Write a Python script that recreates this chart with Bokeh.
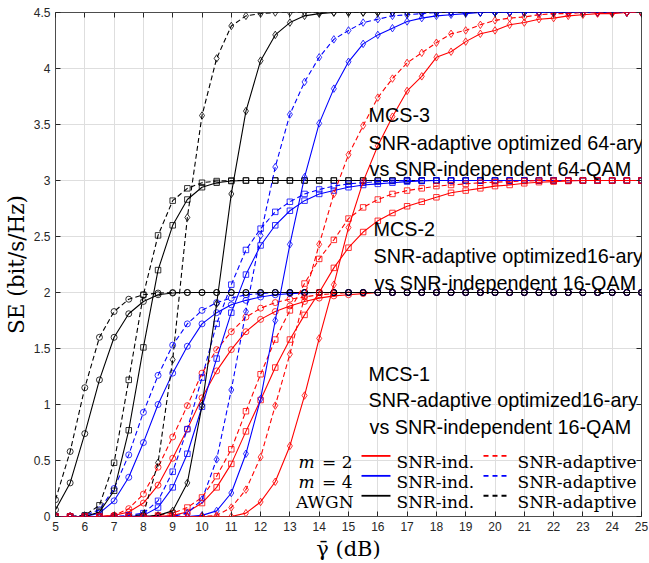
from bokeh.plotting import figure
from bokeh.models import LinearAxis, Label, FixedTicker, CustomJSTickFormatter
from bokeh.embed import file_html
from bokeh.resources import INLINE

# ---------------- data ----------------
snr_db = [5, 5.5, 6, 6.5, 7, 7.5, 8, 8.5, 9, 9.5,
          10, 10.5, 11, 11.5, 12, 12.5, 13, 13.5, 14, 14.5,
          15, 15.5, 16, 16.5, 17, 17.5, 18, 18.5, 19, 19.5,
          20, 20.5, 21, 21.5, 22, 22.5, 23, 23.5, 24, 24.5, 25]

# MCS-1 (circles)
awgn_ad_1 = [0.15, 0.58, 1.15, 1.60, 1.83, 1.94, 1.98, 1.995, 2, 2,
             2, 2, 2, 2, 2, 2, 2, 2, 2, 2,
             2, 2, 2, 2, 2, 2, 2, 2, 2, 2,
             2, 2, 2, 2, 2, 2, 2, 2, 2, 2, 2]
awgn_ind_1 = [0.06, 0.30, 0.74, 1.22, 1.60, 1.81, 1.92, 1.98, 1.995, 2,
              2, 2, 2, 2, 2, 2, 2, 2, 2, 2,
              2, 2, 2, 2, 2, 2, 2, 2, 2, 2,
              2, 2, 2, 2, 2, 2, 2, 2, 2, 2, 2]
m4_ad_1 = [0, 0, 0.01, 0.06, 0.25, 0.55, 0.93, 1.26, 1.53, 1.72,
           1.84, 1.91, 1.95, 1.98, 1.99, 2, 2, 2, 2, 2,
           2, 2, 2, 2, 2, 2, 2, 2, 2, 2,
           2, 2, 2, 2, 2, 2, 2, 2, 2, 2, 2]
m4_ind_1 = [0, 0, 0, 0.03, 0.14, 0.35, 0.66, 1.00, 1.28, 1.52,
            1.72, 1.82, 1.89, 1.93, 1.96, 1.98, 1.99, 1.995, 2, 2,
            2, 2, 2, 2, 2, 2, 2, 2, 2, 2,
            2, 2, 2, 2, 2, 2, 2, 2, 2, 2, 2]
m2_ad_1 = [0, 0, 0, 0, 0.01, 0.07, 0.20, 0.44, 0.71, 0.99,
           1.28, 1.49, 1.65, 1.78, 1.86, 1.91, 1.94, 1.96, 1.98, 1.99,
           2, 2, 2, 2, 2, 2, 2, 2, 2, 2,
           2, 2, 2, 2, 2, 2, 2, 2, 2, 2, 2]
m2_ind_1 = [0, 0, 0, 0, 0.01, 0.04, 0.12, 0.28, 0.52, 0.78,
            1.06, 1.30, 1.49, 1.65, 1.76, 1.83, 1.88, 1.92, 1.95, 1.97,
            1.98, 1.99, 2, 2, 2, 2, 2, 2, 2, 2,
            2, 2, 2, 2, 2, 2, 2, 2, 2, 2, 2]

# MCS-2 (squares)
awgn_ad_2 = [0, 0, 0.01, 0.10, 0.48, 1.22, 1.98, 2.51, 2.82, 2.93,
             2.98, 2.995, 3, 3, 3, 3, 3, 3, 3, 3,
             3, 3, 3, 3, 3, 3, 3, 3, 3, 3,
             3, 3, 3, 3, 3, 3, 3, 3, 3, 3, 3]
awgn_ind_2 = [0, 0, 0, 0.04, 0.23, 0.77, 1.51, 2.20, 2.60, 2.83,
              2.94, 2.98, 2.995, 3, 3, 3, 3, 3, 3, 3,
              3, 3, 3, 3, 3, 3, 3, 3, 3, 3,
              3, 3, 3, 3, 3, 3, 3, 3, 3, 3, 3]
m4_ad_2 = [0, 0, 0, 0, 0, 0.01, 0.03, 0.14, 0.40, 0.78,
           1.24, 1.72, 2.07, 2.38, 2.57, 2.72, 2.81, 2.88, 2.92, 2.95,
           2.97, 2.98, 2.99, 2.995, 3, 3, 3, 3, 3, 3,
           3, 3, 3, 3, 3, 3, 3, 3, 3, 3, 3]
m4_ind_2 = [0, 0, 0, 0, 0, 0, 0.01, 0.08, 0.26, 0.56,
            0.98, 1.41, 1.82, 2.16, 2.42, 2.60, 2.73, 2.82, 2.88, 2.91,
            2.94, 2.96, 2.97, 2.98, 2.99, 2.995, 3, 3, 3, 3,
            3, 3, 3, 3, 3, 3, 3, 3, 3, 3, 3]
m2_ad_2 = [0, 0, 0, 0, 0, 0, 0, 0.01, 0.03, 0.08,
           0.17, 0.36, 0.60, 0.94, 1.27, 1.58, 1.84, 2.08, 2.30, 2.47,
           2.66, 2.76, 2.83, 2.88, 2.91, 2.93, 2.95, 2.96, 2.97, 2.98,
           2.985, 2.99, 2.995, 3, 3, 3, 3, 3, 3, 3, 3]
m2_ind_2 = [0, 0, 0, 0, 0, 0, 0, 0, 0.01, 0.04,
            0.12, 0.26, 0.47, 0.76, 1.04, 1.33, 1.58, 1.80, 2.00, 2.22,
            2.40, 2.54, 2.64, 2.71, 2.77, 2.81, 2.85, 2.89, 2.91, 2.93,
            2.95, 2.96, 2.975, 2.985, 2.99, 2.995, 3, 3, 3, 3, 3]

# MCS-3 (diamonds)
awgn_ad_3 = [0, 0, 0, 0, 0, 0, 0.02, 0.48, 1.40, 2.67,
             3.58, 4.09, 4.38, 4.47, 4.49, 4.5, 4.5, 4.5, 4.5, 4.5,
             4.5, 4.5, 4.5, 4.5, 4.5, 4.5, 4.5, 4.5, 4.5, 4.5,
             4.5, 4.5, 4.5, 4.5, 4.5, 4.5, 4.5, 4.5, 4.5, 4.5, 4.5]
awgn_ind_3 = [0, 0, 0, 0, 0, 0, 0, 0.01, 0.05, 0.30,
              0.99, 1.90, 2.88, 3.62, 4.07, 4.30, 4.41, 4.47, 4.49, 4.5,
              4.5, 4.5, 4.5, 4.5, 4.5, 4.5, 4.5, 4.5, 4.5, 4.5,
              4.5, 4.5, 4.5, 4.5, 4.5, 4.5, 4.5, 4.5, 4.5, 4.5, 4.5]
m4_ad_3 = [0, 0, 0, 0, 0, 0, 0, 0, 0, 0.03,
           0.15, 0.51, 1.13, 1.83, 2.51, 3.12, 3.59, 3.88, 4.10, 4.26,
           4.34, 4.41, 4.44, 4.47, 4.48, 4.49, 4.5, 4.5, 4.5, 4.5,
           4.5, 4.5, 4.5, 4.5, 4.5, 4.5, 4.5, 4.5, 4.5, 4.5, 4.5]
m4_ind_3 = [0, 0, 0, 0, 0, 0, 0, 0, 0, 0,
            0.01, 0.05, 0.21, 0.56, 1.05, 1.75, 2.43, 3.03, 3.51, 3.82,
            4.06, 4.22, 4.30, 4.36, 4.42, 4.45, 4.47, 4.48, 4.49, 4.5,
            4.5, 4.5, 4.5, 4.5, 4.5, 4.5, 4.5, 4.5, 4.5, 4.5, 4.5]
m2_ad_3 = [0, 0, 0, 0, 0, 0, 0, 0, 0, 0,
           0, 0.01, 0.08, 0.24, 0.53, 0.99, 1.45, 1.96, 2.43, 2.88,
           3.23, 3.49, 3.74, 3.91, 4.05, 4.14, 4.23, 4.31, 4.34, 4.39,
           4.43, 4.45, 4.46, 4.48, 4.49, 4.49, 4.5, 4.5, 4.5, 4.5, 4.5]
m2_ind_3 = [0, 0, 0, 0, 0, 0, 0, 0, 0, 0,
            0, 0, 0, 0.03, 0.13, 0.31, 0.63, 1.08, 1.59, 2.07,
            2.58, 2.99, 3.31, 3.57, 3.80, 3.93, 4.10, 4.15, 4.24, 4.31,
            4.34, 4.39, 4.41, 4.44, 4.45, 4.47, 4.48, 4.49, 4.49, 4.5, 4.5]

x_ticks = list(range(5, 26))
y_ticks = [0, 0.5, 1, 1.5, 2, 2.5, 3, 3.5, 4, 4.5]
y_tick_labels = ["0", "0.5", "1", "1.5", "2", "2.5", "3", "3.5", "4", "4.5"]

annotations = [
    ("MCS-3", 368, 115.0), ("SNR-adaptive optimized 64-ary", 368, 142.5),
    ("vs SNR-independent 64-QAM", 369, 169.0),
    ("MCS-2", 373, 229.0), ("SNR-adaptive optimized16-ary", 373, 256.0),
    ("vs SNR-independent 16-QAM", 374, 283.0),
    ("MCS-1", 368, 374.0), ("SNR-adaptive optimized16-ary", 368, 401.0),
    ("vs SNR-independent 16-QAM", 369, 428.0),
]

# ---------------- figure ----------------
RED, BLUE, BLACK = "#ff0000", "#0000ff", "#000000"
AX = "#262626"
DASH = "5 3"

p = figure(width=649, height=563, x_range=(5, 25), y_range=(0, 4.5),
           output_backend="svg", toolbar_location=None,
           min_border_left=55, min_border_right=8, min_border_top=12,
           min_border_bottom=45)
p.background_fill_color = "white"
p.border_fill_color = "white"
p.outline_line_color = "#4d4d4d"
p.outline_line_width = 1

p.xaxis.ticker = FixedTicker(ticks=x_ticks)
p.yaxis.ticker = FixedTicker(ticks=y_ticks)
p.yaxis.major_label_overrides = {float(v): s for v, s in zip(y_ticks, y_tick_labels)}

for ax in (p.xaxis[0], p.yaxis[0]):
    ax.major_tick_in = 5
    ax.major_tick_out = 0
    ax.minor_tick_line_color = None
    ax.axis_line_color = None
    ax.major_tick_line_color = AX
    ax.major_label_text_font = "Liberation Sans"
    ax.major_label_text_font_size = "12px"
    ax.major_label_text_color = AX
    ax.major_label_standoff = 5
    ax.axis_label_text_font = "DejaVu Serif"
    ax.axis_label_text_font_style = "normal"
    ax.axis_label_text_color = "black"
    ax.axis_label_standoff = 3

p.xaxis.axis_label = "\u03b3\u0304 (dB)"
p.xaxis.axis_label_text_font_size = "21px"
p.yaxis.axis_label = "SE (bit/s/Hz)"
p.yaxis.axis_label_text_font_size = "21.5px"
p.yaxis.axis_label_standoff = 2

blank = CustomJSTickFormatter(code="return ''")
top = LinearAxis(ticker=FixedTicker(ticks=x_ticks), formatter=blank,
                 major_tick_in=5, major_tick_out=0, axis_line_color=None,
                 minor_tick_line_color=None, major_tick_line_color=AX,
                 major_label_standoff=0)
right = LinearAxis(ticker=FixedTicker(ticks=y_ticks), formatter=blank,
                   major_tick_in=5, major_tick_out=0, axis_line_color=None,
                   minor_tick_line_color=None, major_tick_line_color=AX,
                   major_label_standoff=0)
p.add_layout(top, "above")
p.add_layout(right, "right")

p.xgrid.grid_line_color = "#dedede"
p.ygrid.grid_line_color = "#dedede"
p.xgrid.grid_line_width = 1
p.ygrid.grid_line_width = 1

series = [
    (m2_ind_1, RED, "solid", "circle"), (m2_ad_1, RED, DASH, "circle"),
    (m4_ind_1, BLUE, "solid", "circle"), (m4_ad_1, BLUE, DASH, "circle"),
    (awgn_ind_1, BLACK, "solid", "circle"), (awgn_ad_1, BLACK, DASH, "circle"),
    (awgn_ind_2, BLACK, "solid", "square"), (awgn_ad_2, BLACK, DASH, "square"),
    (m4_ind_2, BLUE, "solid", "square"), (m4_ad_2, BLUE, DASH, "square"),
    (m2_ind_2, RED, "solid", "square"), (m2_ad_2, RED, DASH, "square"),
    (awgn_ind_3, BLACK, "solid", "diamond"), (awgn_ad_3, BLACK, DASH, "diamond"),
    (m4_ind_3, BLUE, "solid", "diamond"), (m4_ad_3, BLUE, DASH, "diamond"),
    (m2_ind_3, RED, "solid", "diamond"), (m2_ad_3, RED, DASH, "diamond"),
]
msize = {"circle": 6, "square": 5.5, "diamond": 7.5}
for ys, col, dash, mk in series:
    assert len(ys) == len(snr_db)
    p.line(snr_db, ys, line_color=col, line_width=1.1, line_dash=dash)
    p.scatter(snr_db, ys, marker=mk, size=msize[mk], line_color=col,
              line_width=0.8, fill_color=None)

# ---------------- text annotations ----------------
def dx(px):
    return 5 + (px - 55) * 20.0 / 586.0

def dy(py):
    return (517.5 - py) * 4.5 / 505.8

for txt, px, py in annotations:
    p.add_layout(Label(x=dx(px), y=dy(py), text=txt, text_font="Liberation Sans",
                       text_font_size="19.8px", text_color="black",
                       text_baseline="middle", text_align="left"))

# ---------------- custom legend ----------------
rows = [("m", "= 2", RED), ("m", "= 4", BLUE), ("AWGN", None, BLACK)]
for i, (a, b, col) in enumerate(rows):
    base = 463.3 + 20 * i
    mid = 456.7 + 20 * i
    if b is None:
        p.add_layout(Label(x=dx(353), y=dy(base), text=a, text_font="DejaVu Serif",
                           text_font_size="17px", text_align="right",
                           text_baseline="alphabetic", text_color="black"))
    else:
        p.add_layout(Label(x=dx(314), y=dy(base), text=a, text_font="DejaVu Serif",
                           text_font_style="italic", text_font_size="17px",
                           text_align="right", text_baseline="alphabetic",
                           text_color="black"))
        p.add_layout(Label(x=dx(352), y=dy(base), text=b, text_font="DejaVu Serif",
                           text_font_size="17px", text_align="right",
                           text_baseline="alphabetic", text_color="black"))
    p.segment(x0=[dx(361)], y0=[dy(mid)], x1=[dx(390)], y1=[dy(mid)],
              line_color=col, line_width=1.8)
    p.add_layout(Label(x=dx(396), y=dy(base), text="SNR-ind.", text_font="DejaVu Serif",
                       text_font_size="17px", text_baseline="alphabetic",
                       text_color="black"))
    p.segment(x0=[dx(483)], y0=[dy(mid)], x1=[dx(508)], y1=[dy(mid)],
              line_color=col, line_width=1.8, line_dash="5 4")
    p.add_layout(Label(x=dx(517), y=dy(base), text="SNR-adaptive", text_font="DejaVu Serif",
                       text_font_size="17px", text_baseline="alphabetic",
                       text_color="black"))

open("out.html", "w").write(file_html(p, INLINE))
